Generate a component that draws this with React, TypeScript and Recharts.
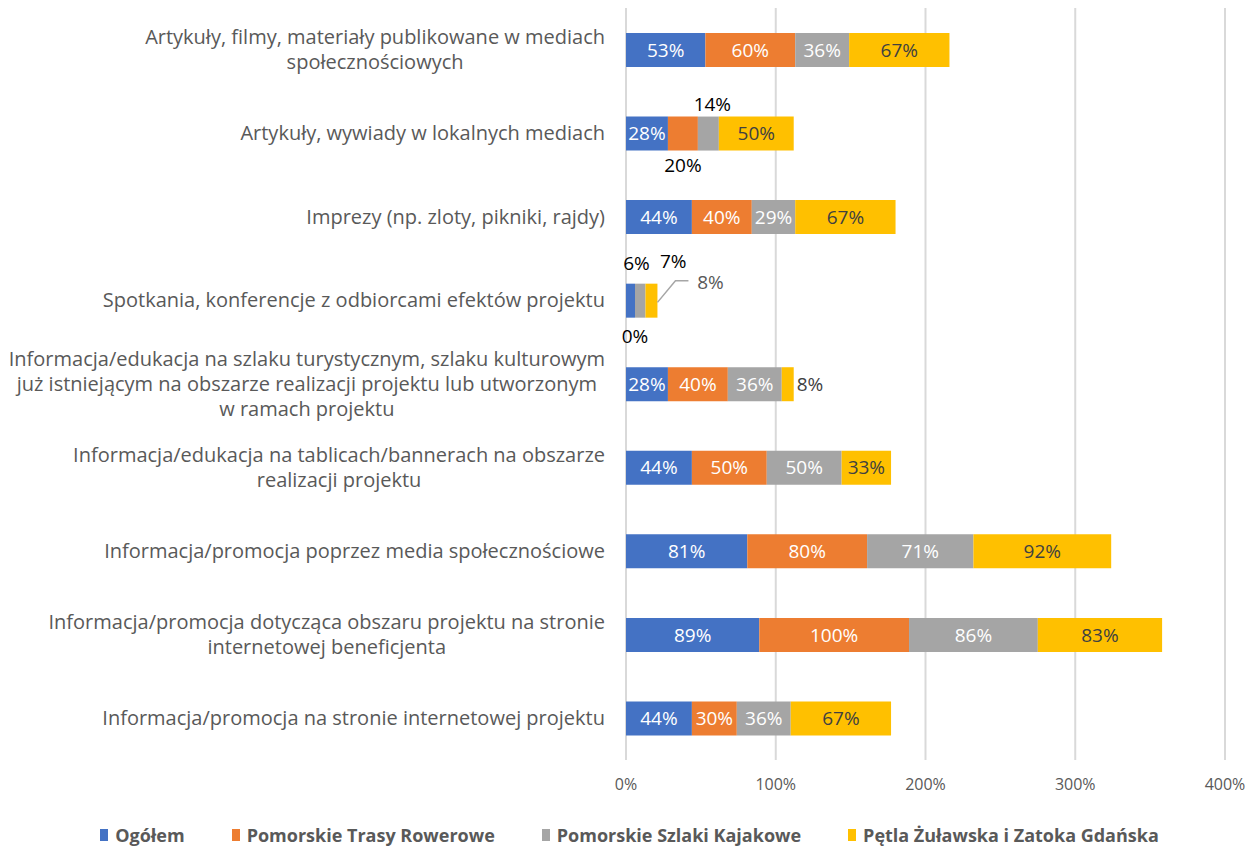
import React from 'react';
import { BarChart, Bar, XAxis, YAxis, CartesianGrid, Legend, LabelList } from 'recharts';

const categories = [
  'Artykuły, filmy, materiały publikowane w mediach\nspołecznościowych',
  'Artykuły, wywiady w lokalnych mediach',
  'Imprezy (np. zloty, pikniki, rajdy)',
  'Spotkania, konferencje z odbiorcami efektów projektu',
  'Informacja/edukacja na szlaku turystycznym, szlaku kulturowym\njuż istniejącym na obszarze realizacji projektu lub utworzonym\nw ramach projektu',
  'Informacja/edukacja na tablicach/bannerach na obszarze\nrealizacji projektu',
  'Informacja/promocja poprzez media społecznościowe',
  'Informacja/promocja dotycząca obszaru projektu na stronie\ninternetowej beneficjenta',
  'Informacja/promocja na stronie internetowej projektu',
];

const seriesNames = ['Ogółem', 'Pomorskie Trasy Rowerowe', 'Pomorskie Szlaki Kajakowe', 'Pętla Żuławska i Zatoka Gdańska'];
const ogolem = [53, 28, 44, 6, 28, 44, 81, 89, 44];
const trasyRowerowe = [60, 20, 40, 0, 40, 50, 80, 100, 30];
const szlakiKajakowe = [36, 14, 29, 7, 36, 50, 71, 86, 36];
const petlaZulawska = [67, 50, 67, 8, 8, 33, 92, 83, 67];
const xTicks = [0, 100, 200, 300, 400];

const seriesValues = [ogolem, trasyRowerowe, szlakiKajakowe, petlaZulawska];
const colors = ['#4472C4', '#ED7D31', '#A5A5A5', '#FFC000'];
const labelColors = ['#FFFFFF', '#FFFFFF', '#FFFFFF', '#404040'];
const keys = ['s0', 's1', 's2', 's3'];

// label placement overrides: key `${series}-${categoryIndex}`
const overrides: Record<string, { dx: number; dy: number; color: string; mode?: string }> = {
  '1-1': { dx: 0, dy: 32, color: '#000000' },
  '2-1': { dx: 4, dy: -29, color: '#000000' },
  '0-3': { dx: 6, dy: -37, color: '#000000' },
  '1-3': { dx: 0, dy: 36, color: '#000000' },
  '2-3': { dx: 33, dy: -39, color: '#000000' },
  '3-3': { dx: 0, dy: 0, color: '#595959', mode: 'callout' },
  '3-4': { dx: 0, dy: 0, color: '#404040', mode: 'right' },
};

const data = categories.map((c, i) => ({
  name: c,
  idx: i,
  s0: ogolem[i],
  s1: trasyRowerowe[i],
  s2: szlakiKajakowe[i],
  s3: petlaZulawska[i],
}));

const FONT = '"Open Sans", "Liberation Sans", Arial, sans-serif';
const CAT_SIZE = 20;
const DATA_SIZE = 19;

let ctx: CanvasRenderingContext2D | null = null;
function measure(text: string, size: number) {
  if (!ctx) {
    const c = document.createElement('canvas');
    ctx = c.getContext('2d');
  }
  if (!ctx) return text.length * size * 0.5;
  ctx.font = `${size}px ${FONT}`;
  return ctx.measureText(text).width;
}

const CategoryTick = (props: any) => {
  const { y, payload } = props;
  const lines = String(payload.value).split('\n');
  const maxW = Math.max(...lines.map((l) => measure(l, CAT_SIZE)));
  const rightEdge = 605;
  const cx = rightEdge - maxW / 2;
  const lh = 25;
  const startY = y - ((lines.length - 1) * lh) / 2;
  return (
    <g>
      {lines.map((l, i) => (
        <text key={i} x={cx} y={startY + i * lh} dy="0.35em" textAnchor="middle" fill="#595959" fontSize={CAT_SIZE} fontFamily={FONT}>
          {l}
        </text>
      ))}
    </g>
  );
};

const txt = (x: number, y: number, t: string, color: string, anchor: string = 'middle', key?: string) => (
  <text key={key} x={x} y={y} dy="0.35em" textAnchor={anchor as any} fill={color} fontSize={DATA_SIZE} fontFamily={FONT}>
    {t}
  </text>
);

const makeLabel = (s: number) => (props: any) => {
  const vb = props.viewBox || props;
  const x = Number(vb.x);
  const y = Number(vb.y);
  const w = Number(vb.width);
  const h = Number(vb.height);
  const [idxStr, valStr] = String(props.value).split('|');
  const idx = Number(idxStr);
  const ov = overrides[`${s}-${idx}`];
  const cx = x + w / 2;
  const cy = y + h / 2;
  const label = `${valStr}%`;
  const parts: any[] = [];
  // zero-width next segment is not rendered by the library; draw its label here
  if (s + 1 < seriesValues.length && seriesValues[s + 1][idx] === 0) {
    const ov2 = overrides[`${s + 1}-${idx}`];
    if (ov2) parts.push(txt(x + w + ov2.dx, cy + ov2.dy, `${seriesValues[s + 1][idx]}%`, ov2.color, 'middle', 'z'));
  }
  if (ov && ov.mode === 'callout') {
    const sx = x + w;
    const sy = y + h * 0.55;
    parts.push(
      <polyline key="l" points={`${sx},${sy} ${sx + 18},${y - 3} ${sx + 31},${y - 3}`} fill="none" stroke="#A6A6A6" strokeWidth={1.5} />
    );
    parts.push(txt(sx + 53, y - 1, label, ov.color, 'middle', 'c'));
  } else if (ov && ov.mode === 'right') {
    parts.push(txt(x + w + 3, cy, label, ov.color, 'start', 'r'));
  } else if (ov) {
    parts.push(txt(cx + ov.dx, cy + ov.dy, label, ov.color, 'middle', 'o'));
  } else {
    parts.push(txt(cx, cy, label, labelColors[s], 'middle', 'n'));
  }
  return <g>{parts}</g>;
};

const LegendContent = () => (
  <div style={{ display: 'flex', justifyContent: 'center', gap: 47, height: 24, alignItems: 'center', fontFamily: FONT, fontWeight: 'bold', fontSize: 18, color: '#595959', paddingLeft: 6 }}>
    {seriesNames.map((n, i) => (
      <div key={n} style={{ display: 'flex', alignItems: 'center' }}>
        <span style={{ display: 'inline-block', width: 8, height: 12, background: colors[i], marginRight: 7 }} />
        <span>{n}</span>
      </div>
    ))}
  </div>
);

export default function App() {
  return (
    <div style={{ position: 'absolute', left: 0, top: 0, background: '#fff' }}>
      <BarChart width={1253} height={850} data={data} layout="vertical" margin={{ top: 8, right: 28, bottom: 36, left: 0 }} barSize={34}>
        <CartesianGrid horizontal={false} stroke="#D9D9D9" strokeWidth={2} />
        <XAxis
          type="number"
          domain={[0, 400]}
          ticks={xTicks}
          tickFormatter={(v: number) => `${v}%`}
          axisLine={false}
          tickLine={false}
          tickMargin={13}
          height={30}
          tick={{ fill: '#595959', fontSize: 16, fontFamily: FONT }}
        />
        <YAxis type="category" dataKey="name" width={626} axisLine={false} tickLine={false} tick={<CategoryTick />} interval={0} />
        <Legend verticalAlign="bottom" content={<LegendContent />} wrapperStyle={{ left: 0, top: 823, width: 1253, height: 24 }} />
        {keys.map((k, s) => (
          <Bar key={k} dataKey={k} name={seriesNames[s]} stackId="a" fill={colors[s]} isAnimationActive={false}>
            <LabelList dataKey={(d: any) => `${d.idx}|${d[k]}`} content={makeLabel(s)} />
          </Bar>
        ))}
      </BarChart>
    </div>
  );
}
